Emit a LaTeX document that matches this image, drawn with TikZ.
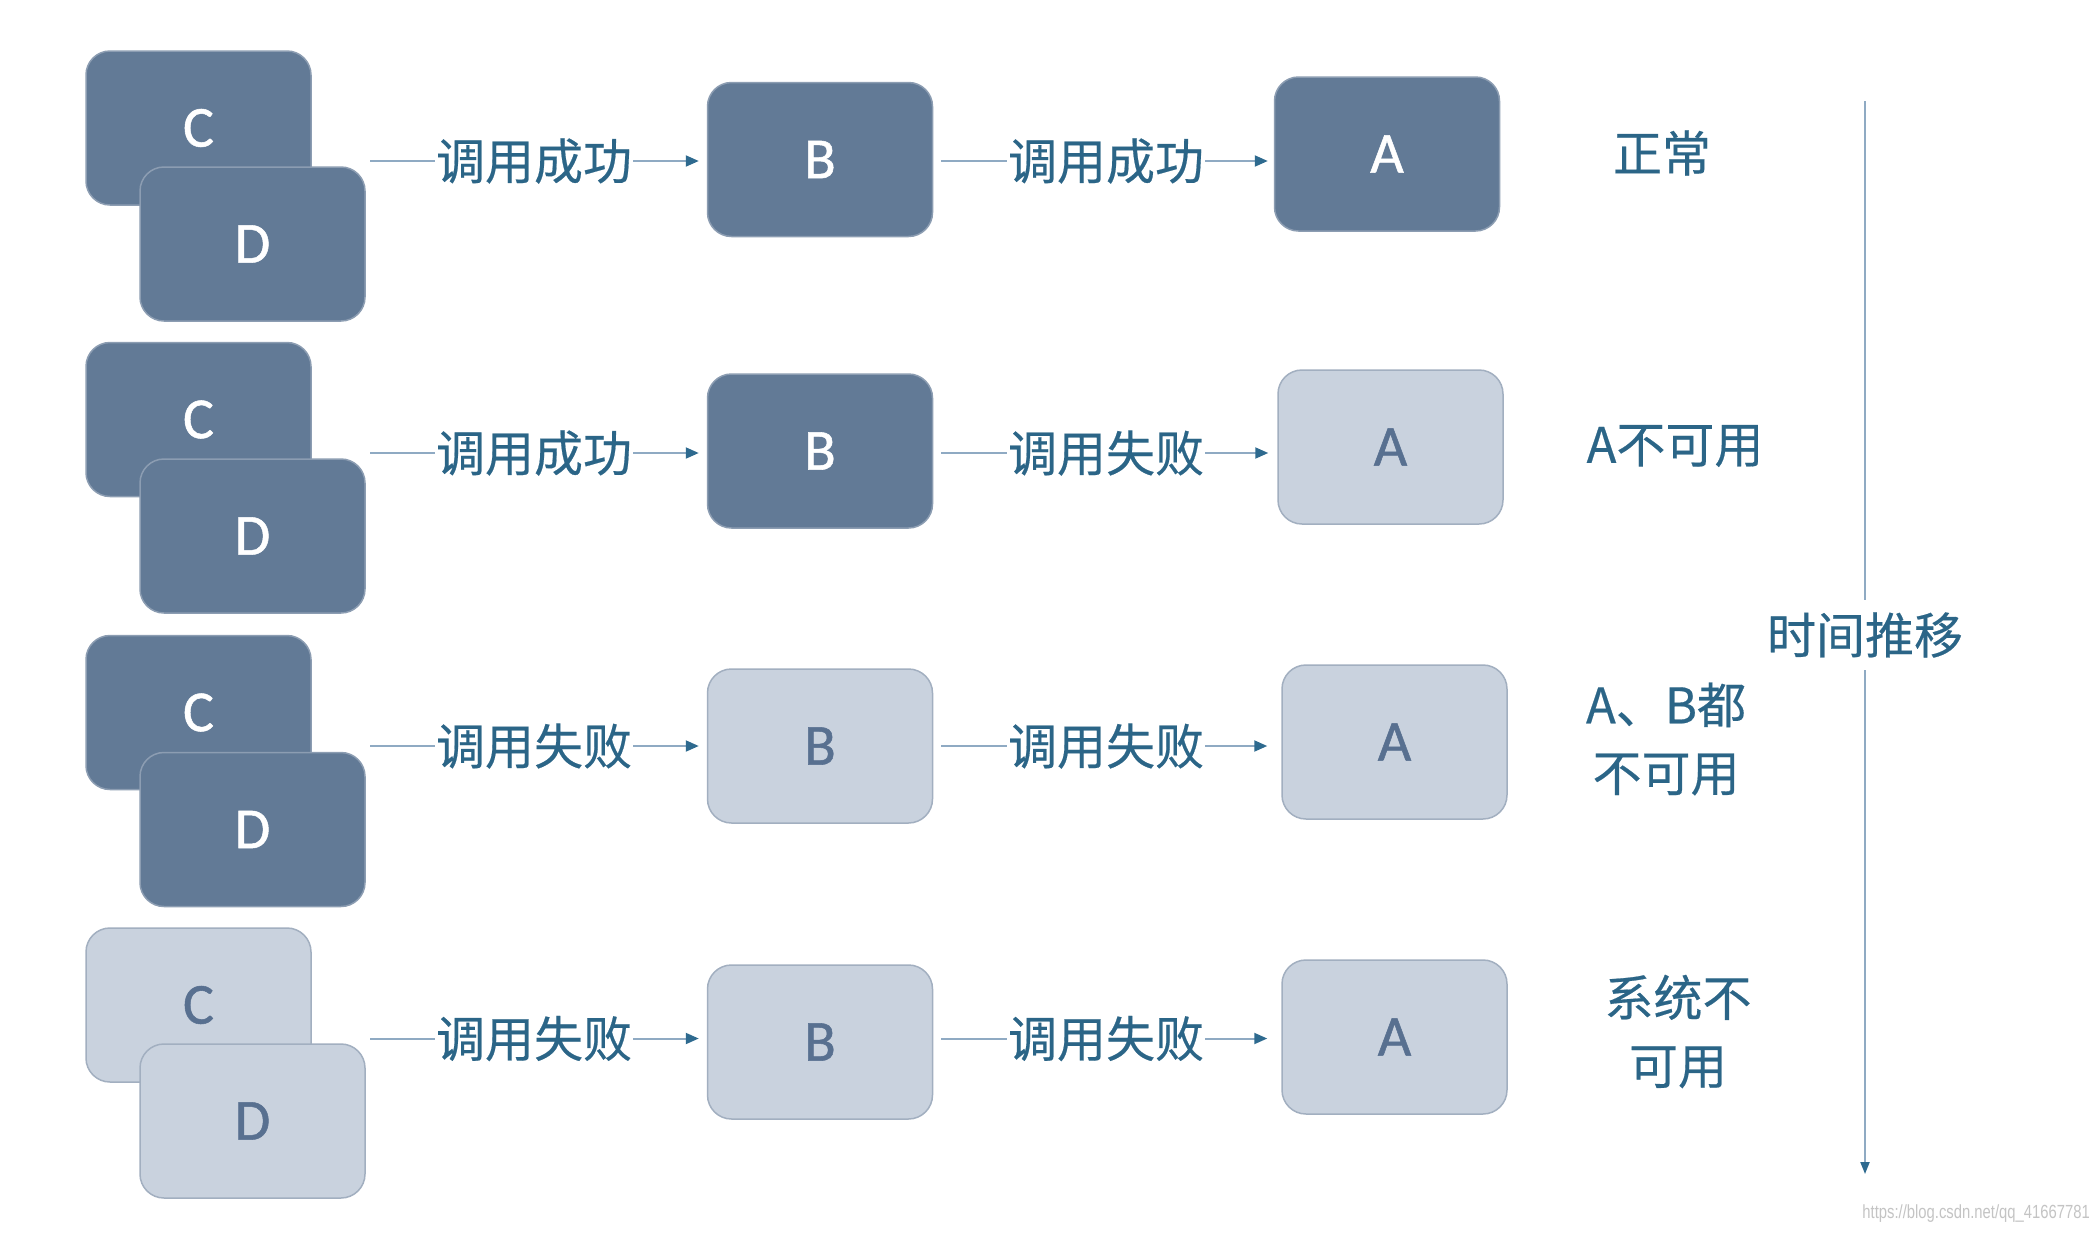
\documentclass[tikz,border=0pt]{standalone}
\usepackage{fontspec}
\newfontfamily\cjk[FakeBold=0.4]{Noto Sans CJK SC}
\newfontfamily\lat[FakeBold=0.9]{Carlito}
\newfontfamily\wmfont{Liberation Sans}
\usetikzlibrary{arrows.meta}
\definecolor{boxdark}{HTML}{627A96}
\definecolor{boxdarkedge}{HTML}{8C9DB2}
\definecolor{boxlight}{HTML}{C9D2DE}
\definecolor{boxlightedge}{HTML}{A2AFC0}
\definecolor{letterlight}{HTML}{587090}
\definecolor{labelblue}{HTML}{2B6587}
\definecolor{linecol}{HTML}{8FAAC3}
\definecolor{tipcol}{HTML}{2E6A8F}
\definecolor{wmcol}{HTML}{C4C4C4}
\tikzset{
  darkbox/.style={rectangle, rounded corners=24pt, minimum width=225pt, minimum height=154pt,
    fill=boxdark, draw=boxdarkedge, line width=1.5pt, text=white,
    font=\lat\fontsize{58}{62}\selectfont, inner sep=0pt},
  lightbox/.style={darkbox, fill=boxlight, draw=boxlightedge, text=letterlight},
  lbl/.style={font=\cjk\fontsize{49}{68}\selectfont, text=labelblue, inner xsep=1pt, inner ysep=0pt},
  state/.style={lbl, align=center},
  conn/.style={draw=linecol, line width=2pt},
  arr/.style={conn, -{Triangle[length=13pt,width=11pt,color=tipcol]}},
  tarr/.style={conn, -{Triangle[length=12pt,width=9pt,color=tipcol]}}
}
\begin{document}
\begin{tikzpicture}[x=1pt,y=-1pt]
\fill[white] (0,0) rectangle (2096,1232);
\useasboundingbox (0,0) rectangle (2096,1232);

% ---------- row 1 ----------
\node[darkbox] (C1) at (198.5,128) {C};
\node[darkbox] (D1) at (252.5,244) {D};
\node[darkbox] (B1) at (820,159.5) {B};
\node[darkbox] (A1) at (1387,154) {A};
\coordinate (s1) at (370,161);
\node[lbl] (l1a) at (534,161) {调用成功};
\node[lbl] (l1b) at (1106,161) {调用成功};
\draw[conn] (s1) -- (l1a.west);
\draw[arr, shorten >=8pt] (l1a.east) -- (l1a.east -| B1.west);
\draw[conn, shorten <=8pt] (l1b.west -| B1.east) -- (l1b.west);
\draw[arr, shorten >=6pt] (l1b.east) -- (l1b.east -| A1.west);
\node[state] (st1) at (1662,153) {正常};

% ---------- row 2 ----------
\node[darkbox] (C2) at (198.5,419.5) {C};
\node[darkbox] (D2) at (252.5,536) {D};
\node[darkbox] (B2) at (820,451) {B};
\node[lightbox] (A2) at (1390.5,447) {A};
\coordinate (s2) at (370,453);
\node[lbl] (l2a) at (534,453) {调用成功};
\node[lbl] (l2b) at (1106,453) {调用失败};
\draw[conn] (s2) -- (l2a.west);
\draw[arr, shorten >=8pt] (l2a.east) -- (l2a.east -| B2.west);
\draw[conn, shorten <=8pt] (l2b.west -| B2.east) -- (l2b.west);
\draw[arr, shorten >=9pt] (l2b.east) -- (l2b.east -| A2.west);
\node[state] (st2) at (1675,446) {A不可用};

% ---------- row 3 ----------
\node[darkbox] (C3) at (198.5,712.5) {C};
\node[darkbox] (D3) at (252.5,829.5) {D};
\node[lightbox] (B3) at (820,746) {B};
\node[lightbox] (A3) at (1394.5,742) {A};
\coordinate (s3) at (370,746);
\node[lbl] (l3a) at (534,746) {调用失败};
\node[lbl] (l3b) at (1106,746) {调用失败};
\draw[conn] (s3) -- (l3a.west);
\draw[arr, shorten >=8pt] (l3a.east) -- (l3a.east -| B3.west);
\draw[conn, shorten <=8pt] (l3b.west -| B3.east) -- (l3b.west);
\draw[arr, shorten >=14pt] (l3b.east) -- (l3b.east -| A3.west);
\node[state] (st3) at (1666,739) {A、B都\\不可用};

% ---------- row 4 ----------
\node[lightbox] (C4) at (198.5,1005) {C};
\node[lightbox] (D4) at (252.5,1121) {D};
\node[lightbox] (B4) at (820,1042) {B};
\node[lightbox] (A4) at (1394.5,1037) {A};
\coordinate (s4) at (370,1038.5);
\node[lbl] (l4a) at (534,1038.5) {调用失败};
\node[lbl] (l4b) at (1106,1038.5) {调用失败};
\draw[conn] (s4) -- (l4a.west);
\draw[arr, shorten >=8pt] (l4a.east) -- (l4a.east -| B4.west);
\draw[conn, shorten <=8pt] (l4b.west -| B4.east) -- (l4b.west);
\draw[arr, shorten >=14pt] (l4b.east) -- (l4b.east -| A4.west);
\node[state] (st4) at (1678,1031.5) {系统不\\可用};

% ---------- time axis ----------
\coordinate (t0) at (1865,101);
\node[lbl, minimum height=70pt] (tl) at (1865,635) {时间推移};
\coordinate (t1) at (1865,1174);
\draw[conn] (t0) -- (tl.north);
\draw[tarr] (tl.south) -- (t1);

% ---------- watermark ----------
\node[text=wmcol, inner sep=0pt, anchor=east] (wm) at (2090,1214)
  {\scalebox{0.78}[1]{\wmfont\fontsize{19}{20}\selectfont https://blog.csdn.net/qq\_41667781}};
\end{tikzpicture}
\end{document}
